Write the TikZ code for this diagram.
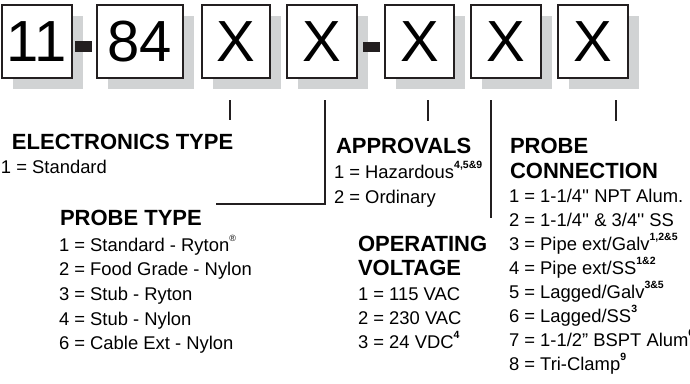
\documentclass[tikz,border=0pt]{standalone}
\usepackage{fontspec}
\newfontfamily\nfont{Liberation Sans}
\newfontfamily\hdfont{Liberation Sans Bold}
\newfontfamily\bigfont{Liberation Sans}
\definecolor{ink}{rgb}{0.137,0.122,0.125}
\definecolor{shadowgray}{rgb}{0.82,0.827,0.831}
\newcommand\sps[1]{\raisebox{9.5pt}{\hdfont\fontsize{10.5}{10.5}\selectfont #1}}
\begin{document}
\begin{tikzpicture}[x=1pt,y=-1pt,
  digitbox/.style={draw=ink,line width=2.3pt,fill=white,inner sep=0,outer sep=0,
    minimum height=73,font=\bigfont\fontsize{58}{60}\selectfont},
  shadowL/.style={fill=shadowgray},
  dashbar/.style={fill=ink},
  head/.style={anchor=base west,inner sep=0,outer sep=0,font=\hdfont\fontsize{22}{22}\selectfont},
  item/.style={anchor=base west,inner sep=0,outer sep=0,font=\nfont\fontsize{18.4}{20}\selectfont},
  lead/.style={draw=ink,line width=2.5pt}]
\useasboundingbox (0,0) rectangle (690,383);
% shadows
\foreach \a/\b in {2/72,97/183,202/270,287/357,385/454,471/541,558/628}
  \fill[shadowL] (\a+11,16) rectangle (\b+11,89);
% dashes
\fill[dashbar] (75,41) rectangle (92,52);
\fill[dashbar] (363,42) rectangle (380,52);
% boxes
\node[digitbox,minimum width=70] (b1) at (37,41.5) {11};
\node[digitbox,minimum width=86] (b2) at (140,41.5) {84};
\node[digitbox,minimum width=68] (b3) at (236,41.5) {X};
\node[digitbox,minimum width=70] (b4) at (322,41.5) {X};
\node[digitbox,minimum width=69] (b5) at (419.5,41.5) {X};
\node[digitbox,minimum width=70] (b6) at (506,41.5) {X};
\node[digitbox,minimum width=70] (b7) at (593,41.5) {X};
% leads
\coordinate (l1a) at (230,100); \coordinate (l1b) at (230,120);
\coordinate (l2a) at (325,100); \coordinate (l2b) at (325,204); \coordinate (l2c) at (216,204);
\coordinate (l3a) at (428,100); \coordinate (l3b) at (428,121);
\coordinate (l4a) at (491,100); \coordinate (l4b) at (491,218);
\coordinate (l5a) at (616,100); \coordinate (l5b) at (616,121);
\draw[lead] (l1a) -- (l1b);
\draw[lead] (l2a) -- (l2b) -- (l2c);
\draw[lead] (l3a) -- (l3b);
\draw[lead] (l4a) -- (l4b);
\draw[lead] (l5a) -- (l5b);
% electronics type
\node[head] (h1) at (12,149) {ELECTRONICS TYPE};
\node[item] (e1) at (1,173) {1 = Standard};
% probe type
\node[head] (h2) at (60,225) {PROBE TYPE};
\foreach \t [count=\i] in {{1 = Standard - Ryton\sps{\nfont\fontsize{9}{9}\selectfont\textregistered}},
  {2 = Food Grade - Nylon},{3 = Stub - Ryton},{4 = Stub - Nylon},{6 = Cable Ext - Nylon}}
  \node[item] (p\i) at (59,{251+24.7*(\i-1)}) {\t};
% approvals
\node[head] (h3) at (336,153) {APPROVALS};
\node[item] (a1) at (334,178) {1 = Hazardous\sps{4,5\&9}};
\node[item] (a2) at (334,203) {2 = Ordinary};
% probe connection
\node[head] (h4) at (510,153) {PROBE};
\node[head] (h4b) at (510,178) {CONNECTION};
\foreach \t [count=\i] in {{1 = 1-1/4'' NPT Alum.},{2 = 1-1/4'' \& 3/4'' SS},
  {3 = Pipe ext/Galv\sps{1,2\&5}},{4 = Pipe ext/SS\sps{1\&2}},{5 = Lagged/Galv\sps{3\&5}},
  {6 = Lagged/SS\sps{3}},{7 = 1-1/2” BSPT Alum\sps{6}},{8 = Tri-Clamp\sps{9}}}
  \node[item] (c\i) at (509,{202+24*(\i-1)}) {\t};
% operating voltage
\node[head] (h5) at (358,251) {OPERATING};
\node[head] (h5b) at (358,275) {VOLTAGE};
\node[item] (v1) at (358,300) {1 = 115 VAC};
\node[item] (v2) at (358,324) {2 = 230 VAC};
\node[item] (v3) at (358,348) {3 = 24 VDC\sps{4}};
\end{tikzpicture}
\end{document}
